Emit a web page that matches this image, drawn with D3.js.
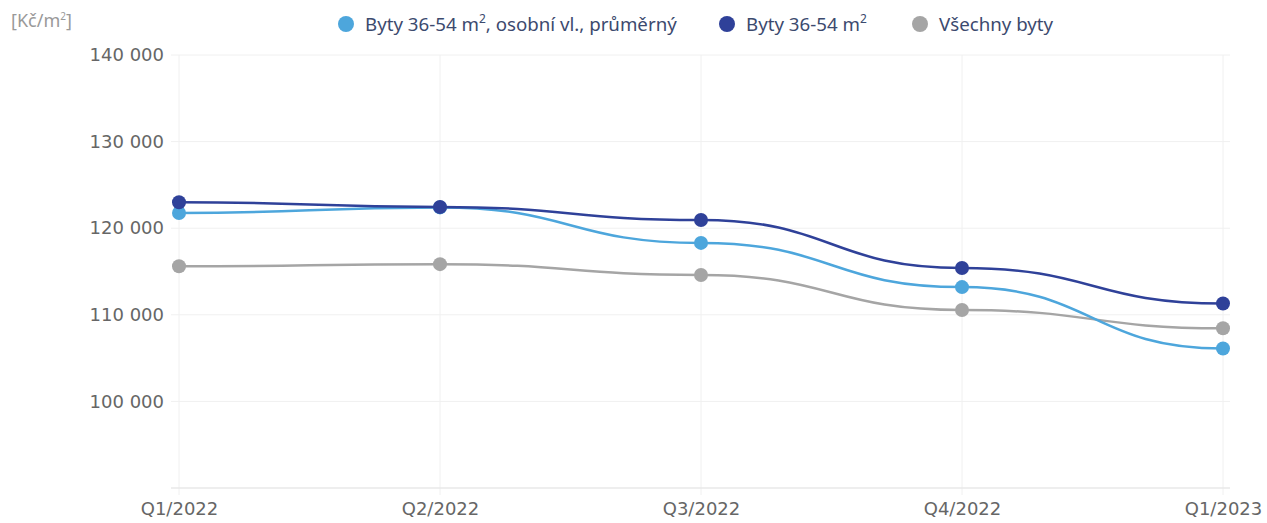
<!DOCTYPE html>
<html>
<head>
<meta charset="utf-8">
<script src="https://cdn.jsdelivr.net/npm/d3@7"></script>
<style>
body { margin: 0; background: #fff; font-family: "Noto Sans", "Open Sans", sans-serif; }
</style>
</head>
<body>
<div id="chart"></div>
<script>
var svgWidth = 1267;
var svgHeight = 523;

var quarters = ["Q1/2022", "Q2/2022", "Q3/2022", "Q4/2022", "Q1/2023"];
var yTicks = [100000, 110000, 120000, 130000, 140000];

var ownAvg = [121750, 122400, 118300, 113200, 106100];
var flats3654 = [123000, 122450, 120950, 115400, 111300];
var allFlats = [115600, 115850, 114600, 110550, 108450];

var colors = ["#4da6dc", "#2f4199", "#a5a5a5"];

var svg = d3.select("#chart")
.append("svg")
.attr("width", svgWidth)
.attr("height", svgHeight);

var plotLeft = 179, plotRight = 1223, plotTop = 55, plotBottom = 488;

var xScale = d3.scalePoint()
.domain(quarters)
.range([plotLeft, plotRight]);

var yScale = d3.scaleLinear()
.domain([90000, 140000])
.range([plotBottom, plotTop]);

// grid
svg.append("g")
.selectAll("line")
.data(yTicks)
.enter()
.append("line")
.attr("x1", plotLeft - 8)
.attr("x2", 1230)
.attr("y1", d => yScale(d))
.attr("y2", d => yScale(d))
.attr("stroke", "#f0f0f0")
.attr("stroke-width", 1);

svg.append("g")
.selectAll("line")
.data(quarters)
.enter()
.append("line")
.attr("x1", d => xScale(d))
.attr("x2", d => xScale(d))
.attr("y1", plotTop)
.attr("y2", plotBottom + 7)
.attr("stroke", "#f0f0f0")
.attr("stroke-width", 1);

// bottom axis line
svg.append("line")
.attr("x1", plotLeft - 8)
.attr("x2", 1230)
.attr("y1", plotBottom)
.attr("y2", plotBottom)
.attr("stroke", "#e8e8e8")
.attr("stroke-width", 1.5);

var fmt = d => d3.format(",")(d).replace(/,/g, " ");

var leftAxis = d3.axisLeft(yScale)
.tickValues(yTicks)
.tickFormat(fmt)
.tickSize(0)
.tickPadding(7);

var yAxis = svg.append("g")
.attr("transform", `translate(${plotLeft - 8},0)`)
.call(leftAxis);
yAxis.select(".domain").remove();

var bottomAxis = d3.axisBottom(xScale)
.tickSize(0)
.tickPadding(14);

var xAxis = svg.append("g")
.attr("transform", `translate(0,${plotBottom})`)
.call(bottomAxis);
xAxis.select(".domain").remove();

svg.selectAll(".tick text")
.attr("fill", "#666")
.attr("font-size", "18px")
.attr("font-family", "'DejaVu Sans', sans-serif");

// unit label
svg.append("text")
.attr("x", 11)
.attr("y", 27)
.attr("fill", "#999")
.attr("font-size", "18px")
.html('[Kč/m<tspan font-size="10px" dy="-7">2</tspan><tspan dy="7">]</tspan>');

var allSeries = [ownAvg, flats3654, allFlats];

var line = d3.line()
.x((d, i) => xScale(quarters[i]))
.y(d => yScale(d))
.curve(d3.curveBumpX);

// gray first so the blue lines sit on top
[2, 0, 1].forEach(function(s) {
    var g = svg.append("g");
    g.append("path")
    .attr("d", line(allSeries[s]))
    .attr("fill", "none")
    .attr("stroke", colors[s])
    .attr("stroke-width", 2.5);
    g.selectAll("circle")
    .data(allSeries[s])
    .enter()
    .append("circle")
    .attr("cx", (d, i) => xScale(quarters[i]))
    .attr("cy", d => yScale(d))
    .attr("r", 7)
    .attr("fill", colors[s]);
});

// legend
var legendItems = [
    { x: 346, color: colors[0], html: 'Byty 36-54 m<tspan font-size="12px" dy="-8">2</tspan><tspan dy="8">, osobní vl., průměrný</tspan>' },
    { x: 727, color: colors[1], html: 'Byty 36-54 m<tspan font-size="12px" dy="-8">2</tspan>' },
    { x: 920, color: colors[2], html: 'Všechny byty' }
];

var legend = svg.append("g");
legendItems.forEach(function(item) {
    legend.append("circle")
    .attr("cx", item.x)
    .attr("cy", 24)
    .attr("r", 8)
    .attr("fill", item.color);
    legend.append("text")
    .attr("x", item.x + 19)
    .attr("y", 31)
    .attr("fill", "#3c4a6e")
    .attr("font-size", "18.7px")
    .html(item.html);
});
</script>
</body>
</html>
